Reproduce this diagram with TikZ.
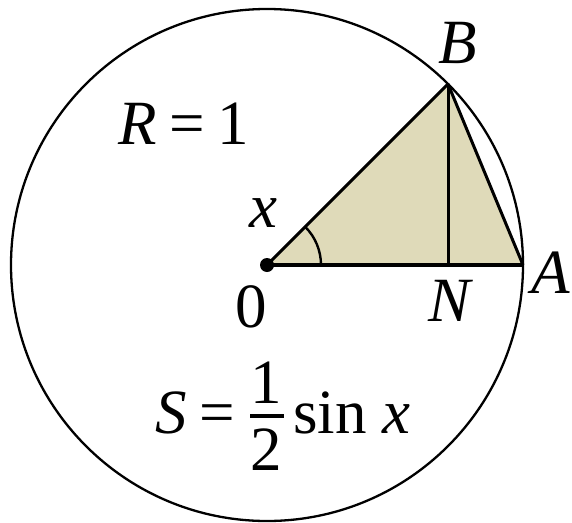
\documentclass[tikz,border=0pt]{standalone}
\usepackage{fontspec}
\setmainfont{Liberation Serif}
\usetikzlibrary{calc}
\definecolor{sector}{RGB}{223,218,185}
\begin{document}
\begin{tikzpicture}[x=1pt,y=-1pt,
  lbl/.style={inner sep=0pt,font=\fontsize{63}{70}\selectfont},
  thinline/.style={line width=2.3pt},
  edge/.style={line width=3pt},
  base/.style={line width=3.8pt}]
\useasboundingbox (0,0) rectangle (572,522);
\coordinate (O) at (267,265);
\coordinate (A) at (523,265);
\coordinate (B) at (448,84);
\coordinate (N) at (448,265);
% sector triangle
\fill[sector] (O) -- (B) -- (A) -- cycle;
% circle
\draw[thinline] (O) circle[radius=256];
% triangle edges
\draw[edge] (O) -- (B);
\draw[edge] (B) -- (A);
\draw[edge] (B) -- (N);
\draw[base] (O) -- (A);
% angle arc
\draw[line width=2.4pt] ($(O)+(54,0)$) arc[start angle=0,end angle=-45,radius=54];
% centre dot
\fill (O) circle[radius=7];
% labels
\node[lbl,anchor=base west] (Rl) at (118,144) {\textit{R}\hspace{0.2em}=\hspace{0.2em}1};
\node[lbl,anchor=base] (xl) at (263,227) {\textit{x}};
\node[lbl,anchor=base] (Bl) at (458,63) {\textit{B}};
\node[lbl,anchor=base] (Al) at (551,293) {\textit{A}};
\node[lbl,anchor=base] (Nl) at (451,321) {\textit{N}};
\node[lbl,anchor=base] (Ol) at (251,327) {0};
% area formula
\node[lbl,anchor=base west] (Sl) at (155,433) {\textit{S}\hspace{0.2em}=};
\node[lbl,anchor=base] (one) at (266.5,403) {1};
\node[lbl,anchor=base] (two) at (266.5,470) {2};
\coordinate (barL) at (250,416);
\coordinate (barR) at (284,416);
\draw[line width=4pt] (barL) -- (barR);
\node[lbl,anchor=base west] (sinx) at (293,433) {sin \textit{x}};
\end{tikzpicture}
\end{document}
